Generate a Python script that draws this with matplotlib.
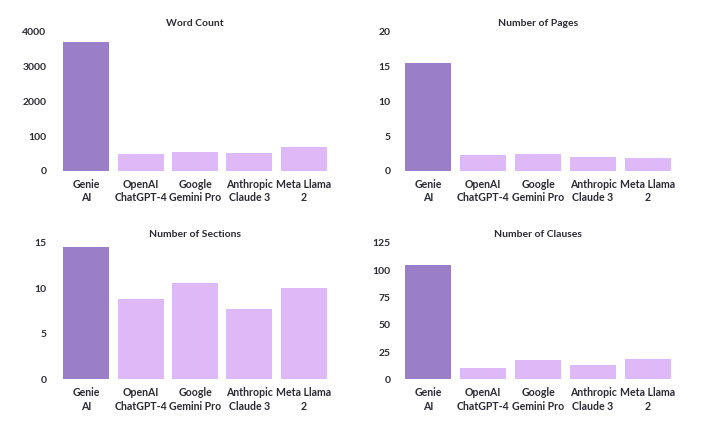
import numpy as np
import matplotlib
matplotlib.use('Agg')
import matplotlib.pyplot as plt

plt.rcParams['font.family'] = ['Lato', 'DejaVu Sans']

# models (x axis)
models = ['Genie\nAI', 'OpenAI\nChatGPT-4', 'Google\nGemini Pro', 'Anthropic\nClaude 3', 'Meta Llama\n2']

# values
word_count = [3720, 490, 550, 520, 690]
pages = [15.6, 2.3, 2.45, 2.0, 1.9]
sections = [14.6, 8.8, 10.6, 7.8, 10.1]
clauses = [105, 10.5, 18, 13.3, 19]

# y ticks (word count axis is labelled "100" where 1000 should be)
wc_ticks = [0, 1000, 2000, 3000, 4000]
wc_labels = ['0', '100', '2000', '3000', '4000']
page_ticks = [0, 5, 10, 15, 20]
section_ticks = [0, 5, 10, 15]
clause_ticks = [0, 25, 50, 75, 100, 125]

dark = '#9b7ec8'
light = '#dfb8f8'
txt = '#2b2b33'

fig = plt.figure(figsize=(7.11, 4.26), dpi=100)

def draw(rect, vals, title, ticks, labels=None, ypad=9):
    ax = fig.add_axes(rect)
    x = np.arange(len(models))
    colors = [dark] + [light] * (len(models) - 1)
    ax.bar(x, vals, width=0.845, color=colors)
    ax.set_xlim(-0.5, len(models) - 0.5)
    ax.set_ylim(ticks[0], ticks[-1])
    ax.set_yticks(ticks)
    ax.set_yticklabels(labels if labels else [str(t) for t in ticks])
    ax.set_xticks(x)
    ax.set_xticklabels(models, linespacing=1.3)
    ax.tick_params(axis='y', length=0, pad=ypad, labelsize=7.5, labelcolor=txt)
    ax.tick_params(axis='x', length=0, pad=5.5, labelsize=7.6, labelcolor=txt)
    for lab in ax.get_xticklabels() + ax.get_yticklabels():
        lab.set_fontweight('bold')
    for s in ax.spines.values():
        s.set_visible(False)
    ax.set_title(title, fontsize=7.5, fontweight='bold', color=txt, pad=4)
    return ax

draw([0.083, 0.5986, 0.3826, 0.3263], word_count, 'Word Count', wc_ticks, wc_labels, ypad=9)
draw([0.5633, 0.5986, 0.3868, 0.3263], pages, 'Number of Pages', page_ticks, ypad=7)
draw([0.083, 0.1092, 0.3826, 0.3204], sections, 'Number of Sections', section_ticks, ypad=9)
draw([0.5633, 0.1092, 0.3868, 0.3204], clauses, 'Number of Clauses', clause_ticks, ypad=7)

fig.savefig('out.png', dpi=100, facecolor='white')
